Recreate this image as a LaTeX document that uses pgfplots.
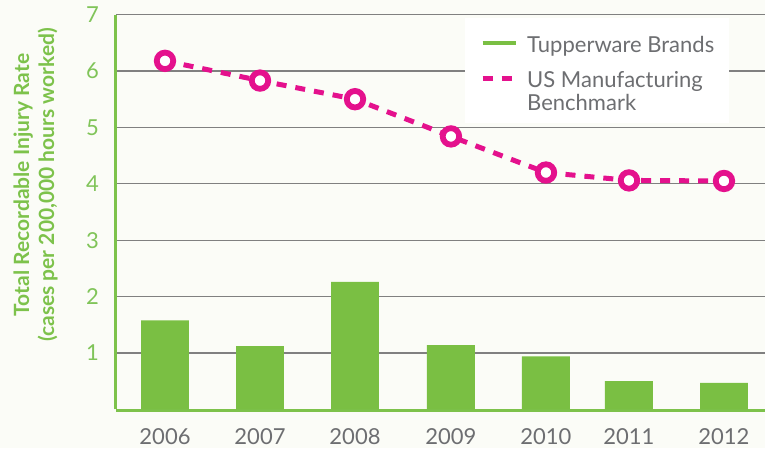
\documentclass[border=0pt]{standalone}
\usepackage{pgfplots}
\pgfplotsset{compat=1.18}
\usepackage{fontspec}
\setmainfont{Lato}
\definecolor{bg}{HTML}{FBFCF7}
\definecolor{bargreen}{HTML}{7ABF43}
\definecolor{axgreen}{HTML}{7DC24B}
\definecolor{tickgreen}{HTML}{80C459}
\definecolor{pinkc}{HTML}{E4118D}
\definecolor{txtgray}{HTML}{6D6E71}
\definecolor{gridgray}{HTML}{808080}
\begin{document}
\begin{tikzpicture}
\useasboundingbox (-116pt,-38.6pt) rectangle (649pt,409.4pt);
\fill[bg] (-116pt,-38.6pt) rectangle (649pt,409.4pt);
\begin{axis}[
  scale only axis,
  width=649pt, height=394.8pt,
  xmin=-0.5158, xmax=6.3158,
  ymin=0, ymax=7,
  axis x line*=bottom, axis y line*=left,
  axis line style={-, draw=axgreen, line width=3pt},
  x axis line style={yshift=-1.5pt},
  ytick={1,2,3,4,5,6,7},
  yticklabels={1,2,3,4,5,6,7},
  xtick={0,1,2,3.01,4.01,4.884,5.884},
  xticklabels={2006,2007,2008,2009,2010,2011,2012},
  major tick length=0pt,
  ymajorgrids,
  grid style={draw=gridgray, line width=1.3pt},
  yticklabel style={font=\fontsize{22}{26}\selectfont, text=tickgreen, inner sep=0pt, anchor=east, xshift=-17pt},
  xticklabel style={font=\fontsize{22}{26}\selectfont, text=txtgray, inner sep=0pt, anchor=north, yshift=-19pt},
  ylabel={Total Recordable Injury Rate\\(cases per 200,000 hours worked)},
  every axis y label/.style={at={(axis description cs:-0.124,0.5684)}, rotate=90, anchor=center, align=center,
     font=\fontsize{21}{25}\selectfont\bfseries, text=axgreen},
  legend image code/.code={\draw[#1] (0pt,9.5pt) -- (33pt,9.5pt);},
  legend style={at={(rel axis cs:0.5378,0.9914)}, anchor=north west, draw=none, fill=white,
     inner xsep=15pt, inner ysep=0pt, row sep=0.7pt, column sep=9pt,
     font=\fontsize{22}{24}\selectfont, text=txtgray,
     nodes={inner sep=0pt, text height=17pt, text depth=5pt},
     cells={anchor=base west}},
]
\addlegendimage{bargreen, line width=4.7pt}
\addlegendentry[text height=34.3pt, text depth=17.3pt]{Tupperware Brands}
\addlegendimage{pinkc, line width=5pt, dash pattern=on 10pt off 9pt}
\addlegendentry{US Manufacturing}
\addlegendimage{empty legend}
\addlegendentry[text depth=13pt]{Benchmark}

\addplot[ybar, bar width=0.505, fill=bargreen, draw=none, forget plot] coordinates {
  (0,1.58) (1,1.12) (2,2.26) (3.01,1.14) (4.01,0.94) (4.884,0.50) (5.884,0.47)
};
\addplot[pinkc, line width=5pt, dash pattern=on 10pt off 9pt, mark=*, mark size=8.25pt,
  mark options={solid, fill=white, draw=pinkc, line width=5.8pt}, forget plot] coordinates {
  (0,6.18) (1,5.83) (2,5.50) (3.01,4.84) (4.01,4.20) (4.884,4.06) (5.884,4.05)
};
\end{axis}
\end{tikzpicture}
\end{document}
